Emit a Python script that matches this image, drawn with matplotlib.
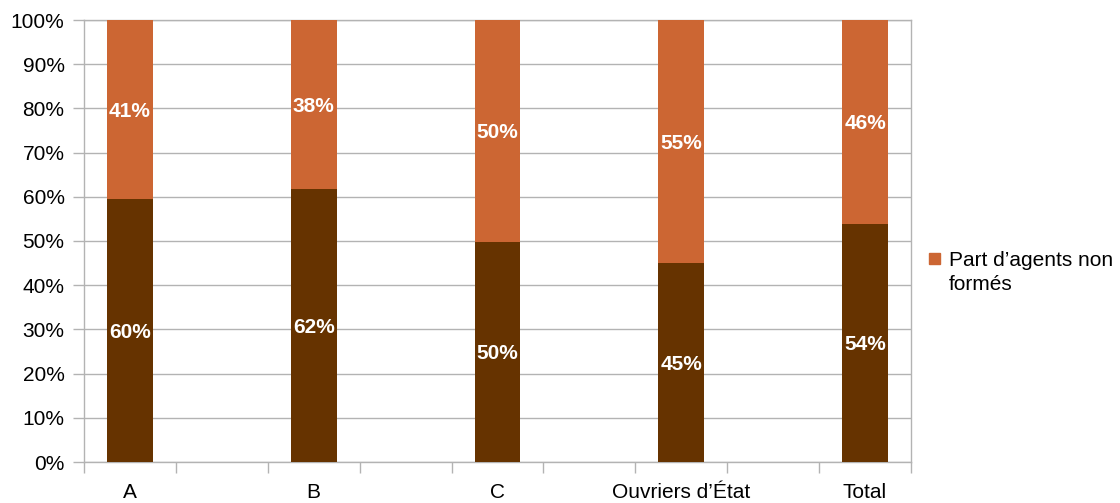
import matplotlib.pyplot as plt
from matplotlib.patches import Rectangle
import numpy as np

# ---------------------------------------------------------------
# Data
# ---------------------------------------------------------------
categories = ["A", "B", "C", "Ouvriers d\u2019\u00c9tat", "Total"]
part_formes = [59.4, 61.8, 49.8, 45.0, 53.9]
part_non_formes = [40.6, 38.2, 50.2, 55.0, 46.1]
labels_formes = ["60%", "62%", "50%", "45%", "54%"]
labels_non_formes = ["41%", "38%", "50%", "55%", "46%"]
legend_label = "Part d\u2019agents non\nformés"

COL_FORMES = "#663300"
COL_NON_FORMES = "#cc6633"
GRID = "#b3b3b3"
FS = 15

plt.rcParams["font.family"] = ["Liberation Sans", "DejaVu Sans"]

fig = plt.figure(figsize=(11.2, 5.03), dpi=100)
ax = fig.add_axes([84 / 1120, 1 - 462 / 503, (911 - 84) / 1120, 442 / 503])

# bars sit in every other slot of a 9-slot axis
x = np.arange(len(categories)) * 2
ax.bar(x, part_formes, width=0.5, color=COL_FORMES, zorder=3)
ax.bar(x, part_non_formes, width=0.5, bottom=part_formes,
       color=COL_NON_FORMES, zorder=3)

for xi, b, t, lb, lt in zip(x, part_formes, part_non_formes, labels_formes, labels_non_formes):
    ax.text(xi, b / 2, lb, ha="center", va="center_baseline", color="white",
            fontsize=FS, fontweight="bold", zorder=4)
    ax.text(xi, b + t / 2, lt, ha="center", va="center_baseline", color="white",
            fontsize=FS, fontweight="bold", zorder=4)

ax.set_xlim(-0.5, 8.5)
ax.set_ylim(0, 100)
ax.set_yticks(np.arange(0, 101, 10))
ax.set_yticklabels([f"{v}%" for v in range(0, 101, 10)], fontsize=FS)
ax.yaxis.grid(True, color=GRID, linewidth=1, zorder=0)

ax.set_xticks(np.arange(-0.5, 9, 1))
ax.set_xticklabels([])
ax.set_xticks(x, minor=True)
ax.set_xticklabels(categories, minor=True, fontsize=FS)
ax.tick_params(axis="x", which="major", length=8, color=GRID, width=1)
ax.tick_params(axis="x", which="minor", length=0, pad=15)
ax.tick_params(axis="y", length=8, color=GRID, width=1, pad=6)

for s in ax.spines.values():
    s.set_color(GRID)
    s.set_linewidth(1)

# legend: only the "non formés" series, swatch aligned with first line
fig.patches.append(Rectangle((929 / 1120, 1 - 264 / 503), 11 / 1120, 11 / 503,
                             transform=fig.transFigure, color=COL_NON_FORMES))
fig.text(949 / 1120, 1 - 251 / 503, legend_label, ha="left", va="top",
         fontsize=FS, linespacing=1.3)

fig.savefig("out.png", dpi=100)
